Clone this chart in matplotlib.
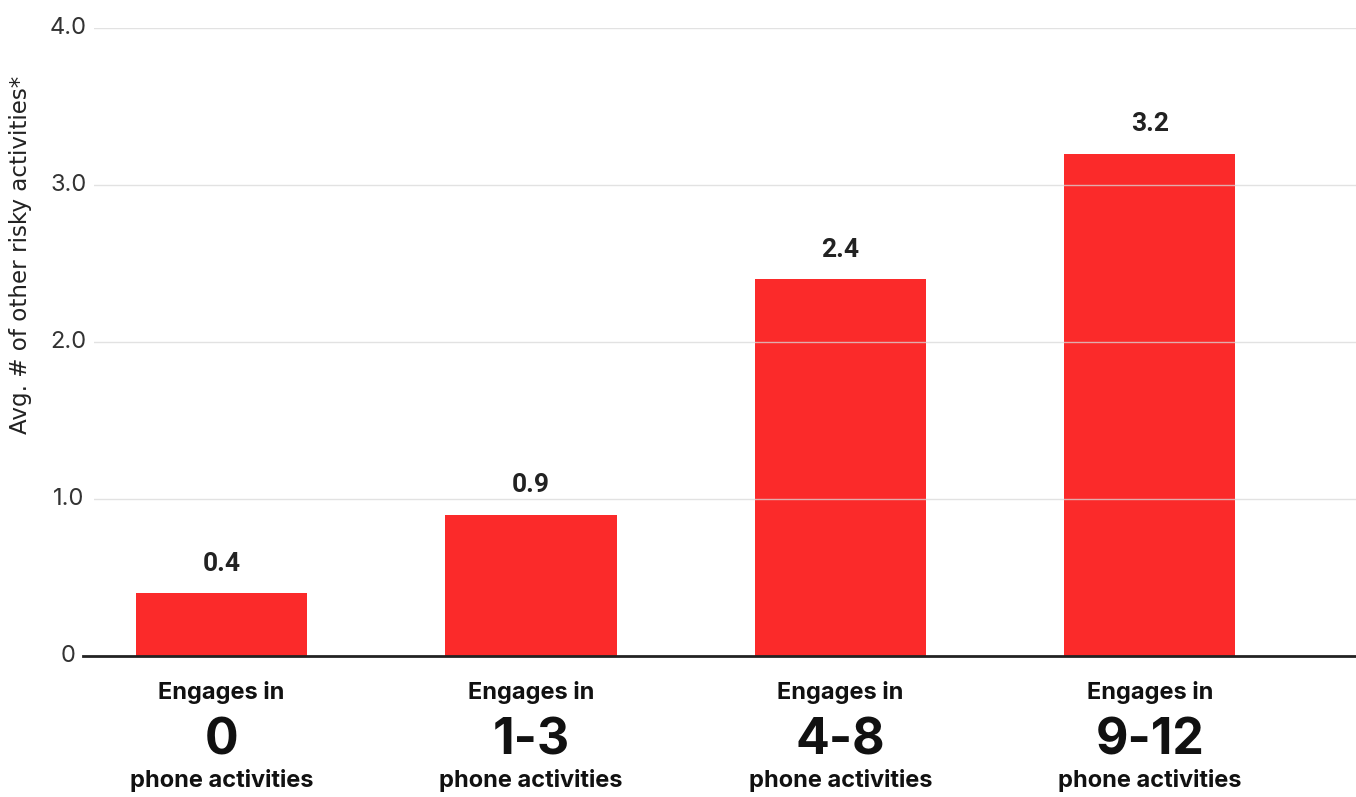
import matplotlib
matplotlib.use("Agg")
import matplotlib.pyplot as plt
from matplotlib.ticker import FixedLocator

# Data
groups = ["0", "1-3", "4-8", "9-12"]
values = [0.4, 0.9, 2.4, 3.2]
yticks = [0, 1.0, 2.0, 3.0, 4.0]
ytick_labels = ["0", "1.0", "2.0", "3.0", "4.0"]
ylabel = "Avg. # of other risky activities*"
top_line = "Engages in"
bottom_line = "phone activities"

plt.rcParams["font.family"] = ["Inter", "DejaVu Sans"]

W, H = 1356, 797
fig = plt.figure(figsize=(W / 100, H / 100), dpi=100)
left_px, right_px, bottom_px, top_px = 94, 1356, 656, 28
ax = fig.add_axes([left_px / W, 1 - bottom_px / H,
                   (right_px - left_px) / W, (bottom_px - top_px) / H])

bar_color = "#fb2a2a"
x = list(range(len(values)))
ax.bar(x, values, width=0.553, color=bar_color, zorder=2)

ax.set_xlim(-0.412, 3.666)
ax.set_ylim(0, 4.0)

# Gridlines sit on top of the bars, slightly transparent
for t in yticks[1:]:
    ax.axhline(t, color="#d9d9d9", lw=1.0, alpha=0.75, zorder=3)

# Baseline extends a bit left of the plot area
ax.plot([-0.0087, 1.0], [0, 0], transform=ax.transAxes, color="#222222",
        lw=2.0, clip_on=False, zorder=4)

# Y tick labels, centred in the left margin
ax.yaxis.set_major_locator(FixedLocator(yticks))
ax.set_yticklabels([])
ax.tick_params(axis="y", length=0)
for t, lab in zip(yticks, ytick_labels):
    ax.annotate(lab, xy=(0, t), xycoords=("axes fraction", "data"),
                xytext=(-(left_px - 68.5) / 1.389, 0), textcoords="offset points",
                ha="center", va="center", fontsize=17, color="#333333",
                annotation_clip=False)
ax.set_xticks([])
for s in ax.spines.values():
    s.set_visible(False)

# Value labels
for xi, v in zip(x, values):
    ax.annotate(f"{v:.1f}", xy=(xi, v), xytext=(0, 12.5), textcoords="offset points",
                ha="center", va="bottom", fontsize=19, fontweight="bold",
                family=["Roboto", "DejaVu Sans"], color="#222222", zorder=5)

# Category labels below the baseline
for xi, g in zip(x, groups):
    ax.annotate(top_line, xy=(xi, 0), xycoords=("data", "axes fraction"),
                xytext=(0, -26.6), textcoords="offset points",
                ha="center", va="center", fontsize=17, fontweight="bold",
                color="#111111", annotation_clip=False)
    ax.annotate(g, xy=(xi, 0), xycoords=("data", "axes fraction"),
                xytext=(0, -61), textcoords="offset points",
                ha="center", va="center", fontsize=36, fontweight="bold",
                color="#111111", annotation_clip=False)
    ax.annotate(bottom_line, xy=(xi, 0), xycoords=("data", "axes fraction"),
                xytext=(0, -89.3), textcoords="offset points",
                ha="center", va="center", fontsize=17, fontweight="bold",
                color="#111111", annotation_clip=False)

fig.text(21 / W, 1 - 255 / H, ylabel, rotation=90, ha="center", va="center",
         fontsize=16.6, family=["DejaVu Sans"], color="#222222")

fig.savefig("out.png", dpi=100, facecolor="white")
